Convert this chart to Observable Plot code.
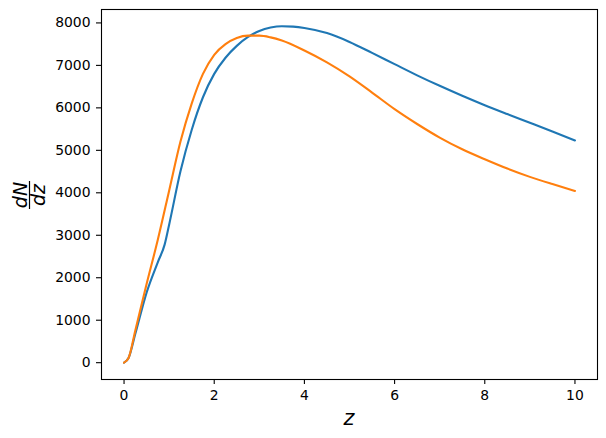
<!DOCTYPE html>
<html>
<head>
<meta charset="utf-8">
<script src="https://cdn.jsdelivr.net/npm/d3@7"></script>
<script src="https://cdn.jsdelivr.net/npm/@observablehq/plot@0.6"></script>
<style>
  html, body { margin: 0; padding: 0; background: #fff; }
</style>
</head>
<body>
<div id="chart"></div>
<script>
const blueZ = [0, 0.1, 0.25, 0.5, 0.75, 0.9, 1.0, 1.25, 1.5, 1.75, 2.0, 2.25, 2.5, 2.75, 3.0, 3.25, 3.5, 3.75, 4.0, 4.5, 5.0, 5.5, 6.0, 6.5, 7.0, 7.5, 8.0, 8.5, 9.0, 9.5, 10];
const blueN = [0, 110, 680, 1650, 2370, 2780, 3250, 4500, 5480, 6250, 6800, 7180, 7460, 7670, 7810, 7890, 7922, 7912, 7880, 7760, 7552, 7294, 7029, 6766, 6519, 6285, 6063, 5854, 5650, 5444, 5232];

const orangeZ = [0, 0.1, 0.25, 0.5, 0.75, 1.0, 1.25, 1.5, 1.75, 2.0, 2.25, 2.5, 2.75, 3.0, 3.25, 3.5, 4.0, 4.5, 5.0, 5.5, 6.0, 6.5, 7.0, 7.5, 8.0, 8.5, 9.0, 9.5, 10];
const orangeN = [0, 110, 760, 1850, 2900, 4050, 5200, 6100, 6800, 7250, 7500, 7645, 7700, 7700, 7660, 7585, 7350, 7070, 6740, 6360, 5970, 5620, 5300, 5025, 4790, 4570, 4375, 4205, 4045];

const xTicks = [0, 2, 4, 6, 8, 10];
const yTicks = [0, 1000, 2000, 3000, 4000, 5000, 6000, 7000, 8000];

const blue = blueZ.map((z, i) => ({z, n: blueN[i]}));
const orange = orangeZ.map((z, i) => ({z, n: orangeN[i]}));

const W = 606, H = 438;
const mL = 101, mR = 9, mT = 9, mB = 59;

const svg = Plot.plot({
  width: W,
  height: H,
  marginLeft: mL,
  marginRight: mR,
  marginTop: mT,
  marginBottom: mB,
  style: {fontFamily: "DejaVu Sans", fontSize: "13.9px", color: "#000", background: "#fff", overflow: "visible"},
  x: {domain: [-0.5, 10.5]},
  y: {domain: [-396, 8316]},
  marks: [
    Plot.line(blue, {x: "z", y: "n", stroke: "#1f77b4", strokeWidth: 2.1, curve: "monotone-x"}),
    Plot.line(orange, {x: "z", y: "n", stroke: "#ff7f0e", strokeWidth: 2.1, curve: "monotone-x"}),
    Plot.frame({stroke: "#000", strokeWidth: 1.1}),
    Plot.axisX({ticks: xTicks, tickSize: 5, tickPadding: 6, label: null, strokeWidth: 1.1}),
    Plot.axisY({ticks: yTicks, tickSize: 5, tickPadding: 6, label: null, tickFormat: d => String(d), strokeWidth: 1.1})
  ]
});

const s = d3.select(svg);
// x label
s.append("text")
  .attr("x", 349).attr("y", 425)
  .attr("text-anchor", "middle")
  .attr("font-family", "DejaVu Sans")
  .attr("font-style", "italic")
  .attr("font-size", "20.8px")
  .attr("fill", "#000")
  .text("z");
// y label: dN / dz as a fraction, rotated
const g = s.append("g").attr("transform", "translate(29.5,195) rotate(-90)")
  .attr("font-family", "DejaVu Sans")
  .attr("font-style", "italic")
  .attr("font-size", "19px")
  .attr("fill", "#000");
g.append("text").attr("x", 0).attr("y", -2.5).attr("text-anchor", "middle").text("dN");
g.append("text").attr("x", 0).attr("y", 15.5).attr("text-anchor", "middle").text("dz");
g.append("line").attr("x1", -14).attr("x2", 14).attr("y1", 0).attr("y2", 0)
  .attr("stroke", "#000").attr("stroke-width", 1.2);

document.getElementById("chart").appendChild(svg);
</script>
</body>
</html>
